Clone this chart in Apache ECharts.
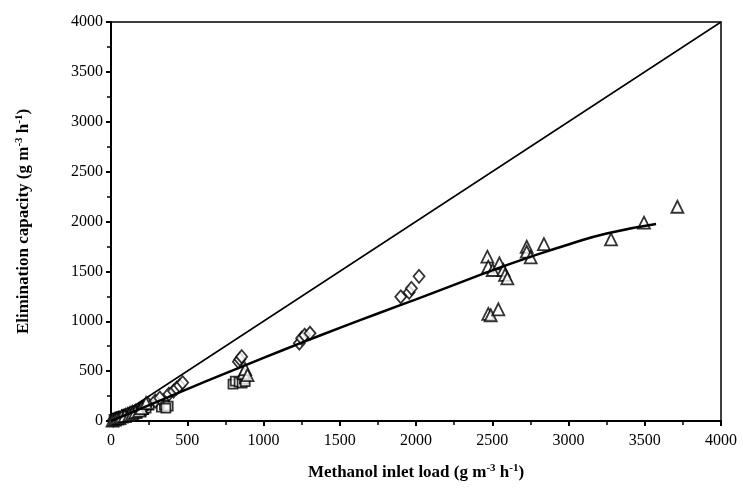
<!DOCTYPE html>
<html>
<head>
<meta charset="utf-8">
<script src="https://cdn.jsdelivr.net/npm/echarts@6/dist/echarts.min.js"></script>
<style>
  html, body { margin: 0; padding: 0; background: #fff; }
  #chart { width: 743px; height: 495px; }
</style>
</head>
<body>
<div id="chart"></div>
<script>
  // 菱形
  var diamonds = [
    [15, 8], [35, 20], [50, 30], [70, 40], [80, 50], [95, 60], [110, 70], [125, 80], [140, 90],
    [160, 100], [180, 110], [200, 125], [220, 150], [240, 175], [290, 200], [320, 230],
    [380, 270], [410, 300], [430, 330], [450, 355], [470, 385],
    [835, 595], [845, 620], [857, 645],
    [1235, 780], [1250, 830], [1270, 860], [1305, 880],
    [1900, 1245], [1955, 1290], [1970, 1330], [2020, 1450]
  ];
  // 方块
  var squares = [
    [20, 15], [30, 20], [45, 30], [60, 40], [80, 45], [100, 60], [120, 65], [150, 80],
    [175, 90], [200, 100], [215, 115], [230, 130], [250, 160],
    [330, 140], [350, 160], [375, 150], [360, 130],
    [800, 370], [815, 400], [840, 390], [860, 380], [875, 420], [880, 395]
  ];
  // 三角
  var triangles = [
    [10, 5], [25, 15], [40, 25], [55, 30], [70, 45], [90, 50], [120, 60], [140, 75], [160, 90],
    [185, 105], [200, 130], [230, 180],
    [870, 480], [880, 520], [895, 460],
    [2468, 1647], [2474, 1547], [2503, 1514], [2547, 1581], [2573, 1514], [2584, 1464], [2599, 1430],
    [2474, 1073], [2490, 1060], [2540, 1120],
    [2726, 1747], [2726, 1697], [2752, 1641], [2839, 1774],
    [3279, 1821], [3495, 1988], [3714, 2148]
  ];
  // 拟合曲线
  var fitLine = [
    [0, 0], [250, 160], [500, 320], [750, 478], [1000, 633], [1250, 785], [1500, 933],
    [1750, 1078], [2000, 1220], [2250, 1365], [2500, 1510], [2750, 1645], [3000, 1770],
    [3250, 1880], [3574, 1975]
  ];
  // 对角线 y = x
  var diagLine = [[0, 0], [4000, 4000]];

  var chart = echarts.init(document.getElementById('chart'));
  var font = '"Liberation Serif", "Times New Roman", serif';
  var mk = { color: '#fff', borderColor: '#000', borderWidth: 1.8 };

  var nameRich = {
    b: { fontFamily: font, fontWeight: 'bold', fontSize: 17, color: '#000' },
    s: { fontFamily: font, fontWeight: 'bold', fontSize: 11, color: '#000', verticalAlign: 'top', padding: [0, 0, 8, 0] }
  };

  var option = {
    animation: false,
    grid: {
      left: 111, right: 22, top: 22, bottom: 74,
      show: true, borderColor: '#000', borderWidth: 1.5, backgroundColor: 'transparent'
    },
    xAxis: {
      type: 'value', min: 0, max: 4000, interval: 500,
      name: '{b|Methanol inlet load (g m}{s|-3}{b| h}{s|-1}{b|)}',
      nameLocation: 'middle', nameGap: 42,
      nameTextStyle: { rich: nameRich },
      axisLine: { lineStyle: { color: '#000', width: 2 } },
      axisTick: { length: 5, lineStyle: { color: '#000', width: 2 } },
      minorTick: { show: true, splitNumber: 2, length: 4, lineStyle: { color: '#000', width: 1.5 } },
      axisLabel: { fontFamily: font, fontSize: 16, color: '#000', margin: 12, formatter: function (v) { return String(v); } },
      splitLine: { show: false }
    },
    yAxis: {
      type: 'value', min: 0, max: 4000, interval: 500,
      name: '{b|Elimination capacity (g m}{s|-3}{b| h}{s|-1}{b|)}',
      nameLocation: 'middle', nameGap: 78, nameRotate: 90,
      nameTextStyle: { rich: nameRich },
      axisLine: { lineStyle: { color: '#000', width: 2 } },
      axisTick: { length: 5, lineStyle: { color: '#000', width: 2 } },
      minorTick: { show: true, splitNumber: 2, length: 4, lineStyle: { color: '#000', width: 1.5 } },
      axisLabel: { fontFamily: font, fontSize: 16, color: '#000', margin: 8, formatter: function (v) { return String(v); } },
      splitLine: { show: false }
    },
    series: [
      {
        type: 'line', data: diagLine, symbol: 'none',
        lineStyle: { color: '#000', width: 1.5 }, z: 2
      },
      {
        type: 'line', data: fitLine, symbol: 'none', smooth: 0.5,
        lineStyle: { color: '#000', width: 2.5 }, z: 5
      },
      {
        type: 'scatter', data: squares, symbol: 'rect', symbolSize: 9,
        itemStyle: mk, z: 3
      },
      {
        type: 'scatter', data: diamonds, symbol: 'diamond', symbolSize: [11, 13],
        itemStyle: mk, z: 3
      },
      {
        type: 'scatter', data: triangles, symbol: 'triangle', symbolSize: [12, 12],
        itemStyle: mk, z: 3
      }
    ]
  };
  chart.setOption(option);
</script>
</body>
</html>
